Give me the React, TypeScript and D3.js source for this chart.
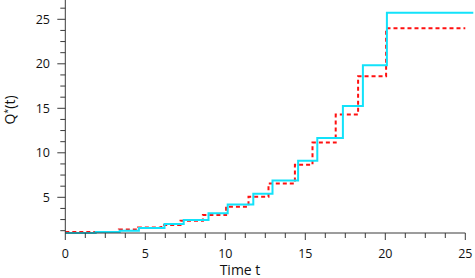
import React from "react";
import * as d3 from "d3";

// step times (t) and the level Q*(t) reached at each step
const blueTimes = [0, 1.9, 3.4, 4.6, 6.2, 7.4, 8.95, 10.15, 11.75, 12.95, 14.55, 15.75, 17.35, 18.6, 20.1, 25.5];
const blueValues = [1.0, 1.1, 1.25, 1.55, 2.0, 2.45, 3.2, 4.2, 5.4, 6.9, 9.1, 11.65, 15.25, 19.85, 25.75, 25.75];

const redTimes = [0, 3.35, 4.55, 6.0, 7.2, 8.6, 10.05, 11.45, 12.7, 14.35, 15.45, 16.9, 18.3, 20.05, 25];
const redValues = [1.1, 1.38, 1.6, 1.9, 2.37, 3.0, 3.95, 5.05, 6.55, 8.65, 11.15, 14.3, 18.6, 24.0, 24.0];

const xMajor = [0, 5, 10, 15, 20, 25];
const yMajor = [5, 10, 15, 20, 25];

const W = 475;
const H = 278;
const font = "'Open Sans', 'Noto Sans', sans-serif";
const axisColor = "#3a3a3a";

export default function App() {
  const x = d3.scaleLinear().domain([0, 25]).range([65.3, 465.3]);
  const y = d3.scaleLinear().domain([5, 25]).range([197.3, 19.3]);
  const yBottom = 233;

  const xMinor = d3.range(0, 25.01, 1.25).filter(v => Math.abs(v % 5) > 0.01);
  const yMinor = d3.range(1.25, 27, 1.25).filter(v => Math.abs(v % 5) > 0.01);

  const line = d3.line<[number, number]>()
    .x(d => x(d[0]))
    .y(d => y(d[1]))
    .curve(d3.curveStepAfter);

  const blue: [number, number][] = blueTimes.map((t, i) => [t, blueValues[i]]);
  const red: [number, number][] = redTimes.map((t, i) => [t, redValues[i]]);

  return (
    <svg width={W} height={H} style={{position: "absolute", left: 0, top: 0}} fontFamily={font}>
      <rect width={W} height={H} fill="#fff"/>
      <path d={line(red) || ""} fill="none" stroke="#ff1010" strokeWidth={2} strokeDasharray="4,3"/>
      <path d={line(blue) || ""} fill="none" stroke="#12e2fa" strokeWidth={2}/>

      {/* x axis */}
      <line x1={x(0)} x2={x(25)} y1={yBottom} y2={yBottom} stroke={axisColor}/>
      {xMajor.map(v => (
        <g key={"xM" + v}>
          <line x1={x(v)} x2={x(v)} y1={yBottom} y2={yBottom + 7} stroke={axisColor}/>
          <text x={x(v)} y={257.5} textAnchor="middle" fontSize={12.5} fill="#111">{v}</text>
        </g>
      ))}
      {xMinor.map(v => (
        <line key={"xm" + v} x1={x(v)} x2={x(v)} y1={yBottom} y2={yBottom + 5} stroke={axisColor}/>
      ))}
      <text x={240} y={275} textAnchor="middle" fontSize={14} fill="#111">Time t</text>

      {/* y axis */}
      <line x1={x(0)} x2={x(0)} y1={0} y2={yBottom} stroke={axisColor}/>
      {yMajor.map(v => (
        <g key={"yM" + v}>
          <line x1={x(0) - 8} x2={x(0)} y1={y(v)} y2={y(v)} stroke={axisColor}/>
          <text x={50} y={y(v) + 4.5} textAnchor="end" fontSize={12.5} fill="#111">{v}</text>
        </g>
      ))}
      {yMinor.map(v => (
        <line key={"ym" + v} x1={x(0) - 5} x2={x(0)} y1={y(v)} y2={y(v)} stroke={axisColor}/>
      ))}
      <text transform="translate(14.5,110) rotate(-90)" textAnchor="middle" fontSize={14} fill="#111">
        Q<tspan dy={-4} fontSize={9}>*</tspan><tspan dy={4}>(t)</tspan>
      </text>
    </svg>
  );
}
